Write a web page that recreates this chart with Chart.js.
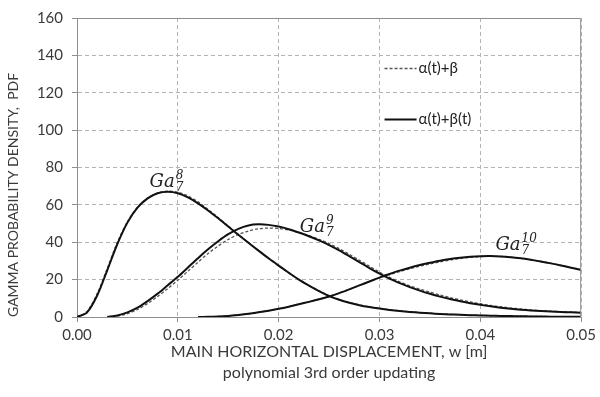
<!DOCTYPE html>
<html>
<head>
<meta charset="utf-8">
<script src="https://cdn.jsdelivr.net/npm/chart.js@4.4.1/dist/chart.umd.min.js"></script>
<style>
  html, body { margin: 0; padding: 0; background: #fff; }
  #wrap { width: 600px; height: 397px; position: relative; }
</style>
</head>
<body>
<div id="wrap"><canvas id="chart"></canvas></div>
<script>
// displacement w [m], one sample per millimetre
const displacement = [
  0.000, 0.001, 0.002, 0.003, 0.004, 0.005, 0.006, 0.007, 0.008, 0.009,
  0.010, 0.011, 0.012, 0.013, 0.014, 0.015, 0.016, 0.017, 0.018, 0.019,
  0.020, 0.021, 0.022, 0.023, 0.024, 0.025, 0.026, 0.027, 0.028, 0.029,
  0.030, 0.031, 0.032, 0.033, 0.034, 0.035, 0.036, 0.037, 0.038, 0.039,
  0.040, 0.041, 0.042, 0.043, 0.044, 0.045, 0.046, 0.047, 0.048, 0.049,
  0.050
];

// alpha(t)+beta(t) updating (solid)
const ga8Solid = [
  0, 2.5, 11.5, 25, 39, 50.5, 58.5, 63.5, 66.2, 67,
  66.2, 64, 60.8, 57, 52.8, 48.4, 44, 39.7, 35.5, 31.4,
  27.5, 23.7, 20, 16.8, 13.8, 11.2, 9.2, 7.6, 6.3, 5.3,
  4.5, 3.8, 3.2, 2.7, 2.3, 1.95, 1.65, 1.4, 1.2, 1,
  0.85, 0.7, 0.6, 0.5, 0.4, 0.32, 0.26, 0.2, 0.15, 0.12,
  0.1
];
const ga9Solid = [
  null, null, null, 0, 0.8, 2.5, 5, 8.5, 12.5, 17,
  21.5, 26.5, 31.5, 36.2, 40.5, 44.3, 47.2, 49, 49.6, 49.3,
  48.4, 47, 45.2, 43.2, 41, 38.5, 35.7, 32.6, 29.4, 26.2,
  23.2, 20.5, 18.1, 16, 14.1, 12.4, 10.9, 9.6, 8.4, 7.4,
  6.5, 5.7, 5, 4.4, 3.9, 3.5, 3.2, 2.9, 2.7, 2.5,
  2.3
];
const ga10Solid = [
  null, null, null, null, null, null, null, null, null, null,
  null, null, 0, 0.1, 0.3, 0.6, 1.1, 1.7, 2.5, 3.4,
  4.4, 5.5, 6.8, 8.1, 9.5, 11, 12.8, 14.8, 16.9, 19,
  21.1, 23, 24.8, 26.4, 27.8, 29, 30.1, 31, 31.7, 32.2,
  32.5, 32.6, 32.4, 32, 31.4, 30.6, 29.7, 28.7, 27.6, 26.4,
  25.2
];

// alpha(t)+beta updating (dashed)
const ga8Dashed = [
  0, 3, 12.5, 26, 40, 51, 58.8, 63.7, 66.4, 67.3,
  66.8, 64.8, 61.6, 57.6, 53.2, 48.7, 44.2, 39.8, 35.5, 31.3,
  27.3, 23.6, 20.1, 16.9, 14, 11.5, 9.4, 7.8, 6.5, 5.4,
  4.6, 3.9, 3.3, 2.8, 2.35, 2, 1.7, 1.45, 1.2, 1,
  0.85, 0.7, 0.6, 0.5, 0.4, 0.32, 0.26, 0.2, 0.15, 0.12,
  0.1
];
const ga9Dashed = [
  null, null, null, 0, 0.5, 1.8, 4, 7.2, 11, 15.2,
  19.7, 24.5, 29.3, 34, 38, 41.5, 44.2, 46, 47.2, 47.6,
  47.4, 46.6, 45.3, 43.6, 41.6, 39.3, 36.6, 33.6, 30.4, 27.2,
  24, 21.2, 18.8, 16.7, 14.9, 13.3, 11.8, 10.4, 9.2, 8.1,
  7.1, 6.2, 5.5, 4.8, 4.3, 3.8, 3.4, 3.1, 2.8, 2.6,
  2.4
];
const ga10Dashed = [
  null, null, null, null, null, null, null, null, null, null,
  null, null, 0, 0.1, 0.3, 0.6, 1.1, 1.7, 2.5, 3.4,
  4.4, 5.5, 6.8, 8.1, 9.5, 11, 12.8, 14.8, 16.9, 19,
  21, 22.7, 24.3, 25.8, 27.2, 28.4, 29.5, 30.5, 31.3, 31.9,
  32.3, 32.5, 32.4, 32, 31.4, 30.6, 29.7, 28.7, 27.6, 26.4,
  25.2
];

const seriesNames = ['α(t)+β(t)', 'α(t)+β'];
const xTickLabels = ['0.00', '0.01', '0.02', '0.03', '0.04', '0.05'];
const yTickValues = [0, 20, 40, 60, 80, 100, 120, 140, 160];

// curve labels Ga_7^n, anchored in data units (left edge / baseline of "Ga")
const curveLabels = [
  { base: 'Ga', sup: '8', sub: '7', w: 0.0072, v: 69.5 },
  { base: 'Ga', sup: '9', sub: '7', w: 0.0221, v: 45.5 },
  { base: 'Ga', sup: '10', sub: '7', w: 0.0415, v: 36 }
];

const FONT = 'Lato, "Open Sans", sans-serif';
const TEXT_COLOR = '#3a3a3a';
const AXIS_COLOR = '#8e8e8e';
const GRID_COLOR = '#b4b4b4';

function points(values) {
  return displacement.map((w, i) => ({ x: w, y: values[i] }));
}

function solid(label, values) {
  return {
    label: label,
    data: points(values),
    borderColor: '#111',
    borderWidth: 2,
    pointRadius: 0,
    fill: false,
    tension: 0.3
  };
}

function dashed(label, values) {
  return {
    label: label,
    data: points(values),
    borderColor: '#555',
    borderWidth: 1.3,
    borderDash: [3, 2],
    pointRadius: 0,
    fill: false,
    tension: 0.3
  };
}

// thin frame on the top and right of the plot area
const frame = {
  id: 'frame',
  afterDatasetsDraw(chart) {
    const { ctx, chartArea: a } = chart;
    ctx.save();
    ctx.strokeStyle = AXIS_COLOR;
    ctx.lineWidth = 1;
    ctx.beginPath();
    ctx.moveTo(a.left, a.top + 0.5);
    ctx.lineTo(a.right - 0.5, a.top + 0.5);
    ctx.lineTo(a.right - 0.5, a.bottom);
    ctx.stroke();
    ctx.restore();
  }
};

// legend drawn inside the plot, dashed entry first
const innerLegend = {
  id: 'innerLegend',
  afterDatasetsDraw(chart) {
    const { ctx } = chart;
    const xs = chart.scales.x, ys = chart.scales.y;
    const x0 = xs.getPixelForValue(0.0305);
    const entries = [
      { name: seriesNames[1], v: 133, style: chart.data.datasets[3] },
      { name: seriesNames[0], v: 106, style: chart.data.datasets[0] }
    ];
    ctx.save();
    entries.forEach(e => {
      const y = Math.round(ys.getPixelForValue(e.v)) + 0.5;
      ctx.strokeStyle = e.style.borderColor;
      ctx.lineWidth = e.style.borderWidth;
      ctx.setLineDash(e.style.borderDash || []);
      ctx.beginPath();
      ctx.moveTo(x0, y);
      ctx.lineTo(x0 + 32, y);
      ctx.stroke();
      ctx.setLineDash([]);
      ctx.fillStyle = '#222';
      ctx.font = '15px ' + FONT;
      ctx.textBaseline = 'middle';
      ctx.fillText(e.name, x0 + 34, y);
    });
    ctx.restore();
  }
};

// Ga with sub/superscripts next to each curve
const curveNames = {
  id: 'curveNames',
  afterDatasetsDraw(chart) {
    const { ctx } = chart;
    const xs = chart.scales.x, ys = chart.scales.y;
    ctx.save();
    ctx.fillStyle = '#222';
    ctx.textBaseline = 'alphabetic';
    curveLabels.forEach(l => {
      const x = xs.getPixelForValue(l.w);
      const y = ys.getPixelForValue(l.v);
      ctx.font = 'italic 18px "DejaVu Serif", serif';
      ctx.fillText(l.base, x, y);
      const x2 = x + ctx.measureText(l.base).width + 1;
      ctx.font = 'italic 12px "DejaVu Serif", serif';
      ctx.fillText(l.sup, x2, y - 8);
      ctx.fillText(l.sub, x2, y + 4);
    });
    ctx.restore();
  }
};

const config = {
  type: 'line',
  data: {
    datasets: [
      solid(seriesNames[0], ga8Solid),
      solid(seriesNames[0], ga9Solid),
      solid(seriesNames[0], ga10Solid),
      dashed(seriesNames[1], ga8Dashed),
      dashed(seriesNames[1], ga9Dashed),
      dashed(seriesNames[1], ga10Dashed)
    ]
  },
  options: {
    responsive: false,
    animation: false,
    layout: { padding: { top: 15, right: 16, left: 0, bottom: 0 } },
    plugins: { legend: { display: false }, tooltip: { enabled: false } },
    scales: {
      x: {
        type: 'linear',
        min: 0,
        max: 0.05,
        afterFit(scale) { scale.height = 80; },
        afterBuildTicks(scale) {
          scale.ticks = xTickLabels.map(t => ({ value: parseFloat(t) }));
        },
        ticks: {
          color: TEXT_COLOR,
          font: { family: FONT, size: 15 },
          padding: 4,
          maxRotation: 0,
          callback: (value, index) => xTickLabels[index]
        },
        grid: { color: GRID_COLOR, lineWidth: 1, tickLength: 5, tickColor: AXIS_COLOR },
        border: { color: AXIS_COLOR, width: 1, dash: [4, 3] },
        title: {
          display: true,
          text: ['MAIN HORIZONTAL DISPLACEMENT, w [m]', 'polynomial 3rd order updating'],
          color: TEXT_COLOR,
          font: { family: FONT, size: 16, lineHeight: 1.3 },
          padding: { top: 0, bottom: 14 }
        }
      },
      y: {
        min: 0,
        max: 160,
        afterFit(scale) { scale.width = 77; },
        afterBuildTicks(scale) {
          scale.ticks = yTickValues.map(v => ({ value: v }));
        },
        ticks: {
          color: TEXT_COLOR,
          font: { family: FONT, size: 15 },
          padding: 9
        },
        grid: { color: GRID_COLOR, lineWidth: 1, tickLength: 5, tickColor: AXIS_COLOR },
        border: { color: AXIS_COLOR, width: 1, dash: [4, 3] },
        title: {
          display: true,
          text: 'GAMMA PROBABILITY DENSITY,  PDF',
          align: 'start',
          color: TEXT_COLOR,
          font: { family: FONT, size: 14 },
          padding: { top: 5, bottom: 0 }
        }
      }
    }
  },
  plugins: [frame, curveNames, innerLegend]
};

const canvas = document.getElementById('chart');
canvas.width = 600;
canvas.height = 397;
new Chart(canvas, config);
</script>
</body>
</html>
